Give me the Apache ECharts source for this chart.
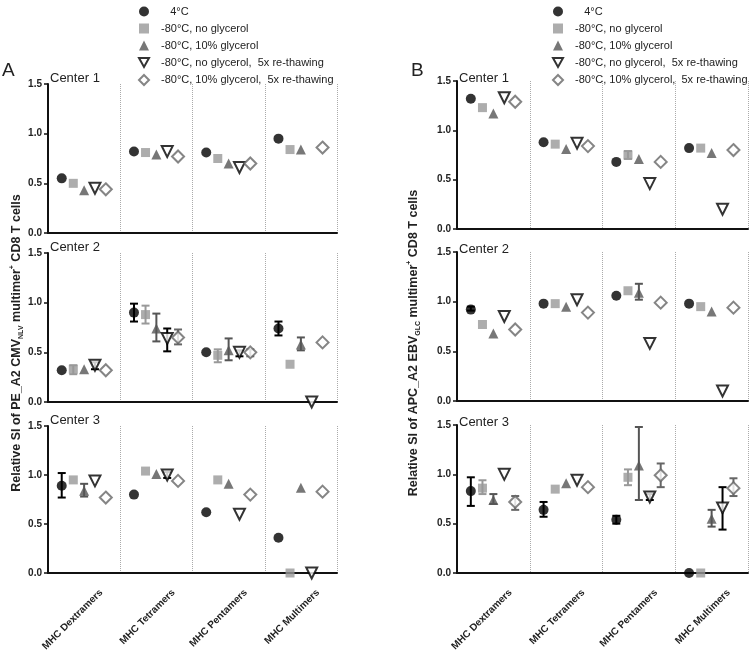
<!DOCTYPE html>
<html>
<head>
<meta charset="utf-8">
<script src="https://cdn.jsdelivr.net/npm/echarts@6/dist/echarts.min.js"></script>
<style>
  html, body { margin: 0; padding: 0; background: #fff; }
  #chart { width: 750px; height: 652px; }
</style>
</head>
<body>
<div id="chart"></div>
<script>
const categories = ['MHC Dextramers', 'MHC Tetramers', 'MHC Pentamers', 'MHC Multimers'];
const seriesNames = [
  '4°C',
  '-80°C, no glycerol',
  '-80°C, 10% glycerol',
  '-80°C, no glycerol,  5x re-thawing',
  '-80°C, 10% glycerol,  5x re-thawing'
];
const centerNames = ['Center 1', 'Center 2', 'Center 3'];
const yMin = 0, yMax = 1.5, yStep = 0.5;

// values per series (rows) per category (columns); null = no point
const aCenter1 = [
  [0.55, 0.82, 0.81, 0.95],
  [0.50, 0.81, 0.75, 0.84],
  [0.43, 0.79, 0.70, 0.84],
  [0.45, 0.82, 0.66, null],
  [0.44, 0.77, 0.70, 0.86]
];
const aCenter2 = [
  [0.32, 0.90, 0.50, 0.74],
  [0.33, 0.88, 0.47, 0.38],
  [0.33, 0.74, 0.52, 0.58],
  [0.37, 0.64, 0.50, 0.00],
  [0.32, 0.65, 0.50, 0.60]
];
const aCenter3 = [
  [0.89, 0.80, 0.62, 0.36],
  [0.95, 1.04, 0.95, 0.00],
  [0.84, 1.01, 0.91, 0.87],
  [0.94, 1.00, 0.60, 0.00],
  [0.77, 0.94, 0.80, 0.83]
];
const bCenter1 = [
  [1.32, 0.88, 0.68, 0.82],
  [1.23, 0.86, 0.75, 0.82],
  [1.17, 0.81, 0.71, 0.77],
  [1.33, 0.87, 0.46, 0.20],
  [1.29, 0.84, 0.68, 0.80]
];
const bCenter2 = [
  [0.92, 0.98, 1.06, 0.98],
  [0.77, 0.98, 1.11, 0.95],
  [0.68, 0.95, 1.09, 0.90],
  [0.85, 1.02, 0.58, 0.10],
  [0.72, 0.89, 0.99, 0.94]
];
const bCenter3 = [
  [0.83, 0.64, 0.54, 0.00],
  [0.86, 0.85, 0.97, 0.00],
  [0.74, 0.91, 1.09, 0.55],
  [1.00, 0.94, 0.77, 0.66],
  [0.72, 0.87, 0.99, 0.86]
];

// error bars [low, high] per series per category
const aCenter1Err = [
  [null, null, null, null], [null, null, null, null], [null, null, null, null],
  [null, null, null, null], [null, null, null, null]
];
const aCenter2Err = [
  [null, [0.81, 0.99], null, [0.67, 0.81]],
  [[0.28, 0.37], [0.79, 0.97], [0.40, 0.53], null],
  [null, [0.61, 0.89], [0.42, 0.64], [0.52, 0.65]],
  [[0.33, 0.40], [0.51, 0.74], [0.46, 0.52], null],
  [null, [0.58, 0.73], [0.46, 0.53], null]
];
const aCenter3Err = [
  [[0.77, 1.02], null, null, null],
  [null, null, null, null],
  [[0.78, 0.91], null, null, null],
  [null, [0.97, 1.03], null, null],
  [null, null, null, null]
];
const bCenter1Err = [
  [null, null, null, null],
  [null, null, [0.71, 0.79], null],
  [null, null, null, null],
  [null, null, null, null],
  [null, null, null, null]
];
const bCenter2Err = [
  [[0.91, 0.95], null, null, null],
  [null, null, null, null],
  [null, null, [1.02, 1.18], null],
  [null, null, null, null],
  [null, null, null, null]
];
const bCenter3Err = [
  [[0.68, 0.97], [0.57, 0.72], [0.50, 0.58], null],
  [[0.80, 0.94], null, [0.89, 1.05], null],
  [[0.70, 0.80], null, [0.74, 1.48], [0.47, 0.64]],
  [null, null, [0.74, 0.80], [0.44, 0.87]],
  [[0.64, 0.78], null, [0.87, 1.11], [0.78, 0.96]]
];

// layout
const panels = [
  { letter: 'A', left: 48, width: 289, tops: [84, 253, 426], bottoms: [233, 402, 573],
    values: [aCenter1, aCenter2, aCenter3], errs: [aCenter1Err, aCenter2Err, aCenter3Err],
    legendLeft: 133, titleX: 17, centerDy: -12,
    yTitle: '{n|Relative SI of PE_A2 CMV}{s|NLV}{n| multimer}{p|+}{n| CD8 T cells}' },
  { letter: 'B', left: 457, width: 291, tops: [81, 252, 425], bottoms: [229, 401, 573],
    values: [bCenter1, bCenter2, bCenter3], errs: [bCenter1Err, bCenter2Err, bCenter3Err],
    legendLeft: 547, titleX: 414, centerDy: -9,
    yTitle: '{n|Relative SI of APC_A2 EBV}{s|GLC}{n| multimer}{p|+}{n| CD8 T cells}' }
];

const offsets = [-0.31, -0.15, 0, 0.15, 0.3];
const markerStyles = [
  { symbol: 'circle', size: 10, rotate: 0, itemStyle: { color: '#000' }, err: '#000' },
  { symbol: 'rect', size: 9, rotate: 0, itemStyle: { color: '#999' }, err: '#999' },
  { symbol: 'triangle', size: 10, rotate: 0, itemStyle: { color: '#555' }, err: '#555' },
  { symbol: 'triangle', size: 11, rotate: 180, itemStyle: { color: '#fff', borderColor: '#000', borderWidth: 2 }, err: '#000' },
  { symbol: 'diamond', size: 12, rotate: 0, itemStyle: { color: '#fff', borderColor: '#666', borderWidth: 2 }, err: '#666' }
];
const legendIcons = ['circle', 'rect', 'triangle', 'path://M0,0L10,0L5,9Z', 'diamond'];

const font = 'Liberation Sans';
const chart = echarts.init(document.getElementById('chart'));

const grids = [], xAxes = [], yAxes = [], series = [], graphics = [], legends = [];

panels.forEach((p, pi) => {
  legends.push({
    left: p.legendLeft, top: 1, orient: 'vertical',
    itemWidth: 10, itemHeight: 10, itemGap: 6,
    selectedMode: false,
    data: seriesNames.map((n, s) => ({ name: n, icon: legendIcons[s] })),
    formatter: n => (n === '4°C' ? '   ' + n : n),
    textStyle: { fontFamily: font, fontSize: 11, color: '#222', padding: [0, 0, 0, 7] }
  });
  graphics.push({
    type: 'text', left: p.left - 46, top: 61,
    style: { text: p.letter, fontFamily: font, fontSize: 19, fill: '#222' }
  });
  graphics.push({
    type: 'text', x: p.titleX, y: 343, rotation: Math.PI / 2,
    style: {
      text: p.yTitle, align: 'center', verticalAlign: 'middle',
      rich: {
        n: { fontFamily: font, fontWeight: 'bold', fontSize: 12.5, fill: '#222', lineHeight: 16, verticalAlign: 'middle' },
        s: { fontFamily: font, fontWeight: 'bold', fontSize: 7, fill: '#222', lineHeight: 8, verticalAlign: 'bottom' },
        p: { fontFamily: font, fontWeight: 'bold', fontSize: 7, fill: '#222', lineHeight: 8, verticalAlign: 'top' }
      }
    }
  });

  p.tops.forEach((top, ci) => {
    const g = grids.length;
    grids.push({ left: p.left, top: top, width: p.width, height: p.bottoms[ci] - top });
    graphics.push({
      type: 'text', left: p.left + 2, top: top + p.centerDy,
      style: { text: centerNames[ci], fontFamily: font, fontSize: 13, fill: '#222' }
    });
    // visible category axis (labels are drawn below as rotated texts)
    xAxes.push({
      type: 'category', gridIndex: g, data: categories, boundaryGap: true,
      axisLine: { lineStyle: { color: '#111', width: 2 } },
      axisTick: { alignWithLabel: true, interval: 0, length: 5, lineStyle: { color: '#111', width: 1.5 } },
      axisLabel: { show: false },
      splitLine: { show: true, interval: 0, lineStyle: { type: 'dotted', color: '#aaa', width: 1 } }
    });
    // hidden value axis used to place points beside each other
    xAxes.push({ type: 'value', gridIndex: g, min: -0.5, max: 3.5, show: false });
    yAxes.push({
      type: 'value', gridIndex: g, min: yMin, max: yMax, interval: yStep,
      axisLine: { show: true, onZero: false, lineStyle: { color: '#111', width: 2 } },
      axisTick: { show: true, length: 4, lineStyle: { color: '#111', width: 1.5 } },
      axisLabel: {
        formatter: v => v.toFixed(1), margin: 6,
        fontFamily: font, fontWeight: 'bold', fontSize: 10, color: '#222'
      },
      splitLine: { show: false }
    });

    const vals = p.values[ci];
    const errs = p.errs[ci];
    seriesNames.forEach((name, s) => {
      const m = markerStyles[s];
      const errData = [];
      errs[s].forEach((e, i) => { if (e) errData.push([i + offsets[s], e[0], e[1]]); });
      if (errData.length) {
        series.push({
          type: 'custom', name: 'err', xAxisIndex: 2 * g + 1, yAxisIndex: g, z: 2,
          data: errData, encode: { x: 0, y: [1, 2] }, silent: true,
          renderItem: (params, api) => {
            const x = api.value(0);
            const lo = api.coord([x, api.value(1)]);
            const hi = api.coord([x, api.value(2)]);
            const st = { stroke: m.err, lineWidth: 2 };
            return {
              type: 'group', children: [
                { type: 'line', shape: { x1: lo[0], y1: lo[1], x2: hi[0], y2: hi[1] }, style: st },
                { type: 'line', shape: { x1: lo[0] - 4, y1: lo[1], x2: lo[0] + 4, y2: lo[1] }, style: st },
                { type: 'line', shape: { x1: hi[0] - 4, y1: hi[1], x2: hi[0] + 4, y2: hi[1] }, style: st }
              ]
            };
          }
        });
      }
      const data = [];
      vals[s].forEach((v, i) => { if (v !== null) data.push([i + offsets[s], v]); });
      series.push({
        type: 'scatter', name: name, xAxisIndex: 2 * g + 1, yAxisIndex: g, z: 3,
        symbol: m.symbol, symbolSize: m.size, symbolRotate: m.rotate,
        itemStyle: m.itemStyle, clip: false,
        data: data
      });
    });
  });
});

chart.setOption({
  animation: false,
  backgroundColor: '#fff',
  legend: legends,
  grid: grids,
  xAxis: xAxes,
  yAxis: yAxes,
  graphic: graphics,
  series: series
});

// rotated category labels under the bottom row, anchored at each tick
const labelGraphics = [];
panels.forEach((p, pi) => {
  const g = pi * 3 + 2;
  categories.forEach((cat, i) => {
    const pt = chart.convertToPixel({ xAxisIndex: 2 * g + 1, yAxisIndex: g }, [i, 0]);
    labelGraphics.push({
      type: 'text', x: pt[0] + 17, y: pt[1] + 18, rotation: Math.PI / 4,
      style: { text: cat, align: 'right', verticalAlign: 'middle', fontFamily: font, fontWeight: 'bold', fontSize: 10, fill: '#222' }
    });
  });
});
chart.setOption({ graphic: graphics.concat(labelGraphics) });
</script>
</body>
</html>
